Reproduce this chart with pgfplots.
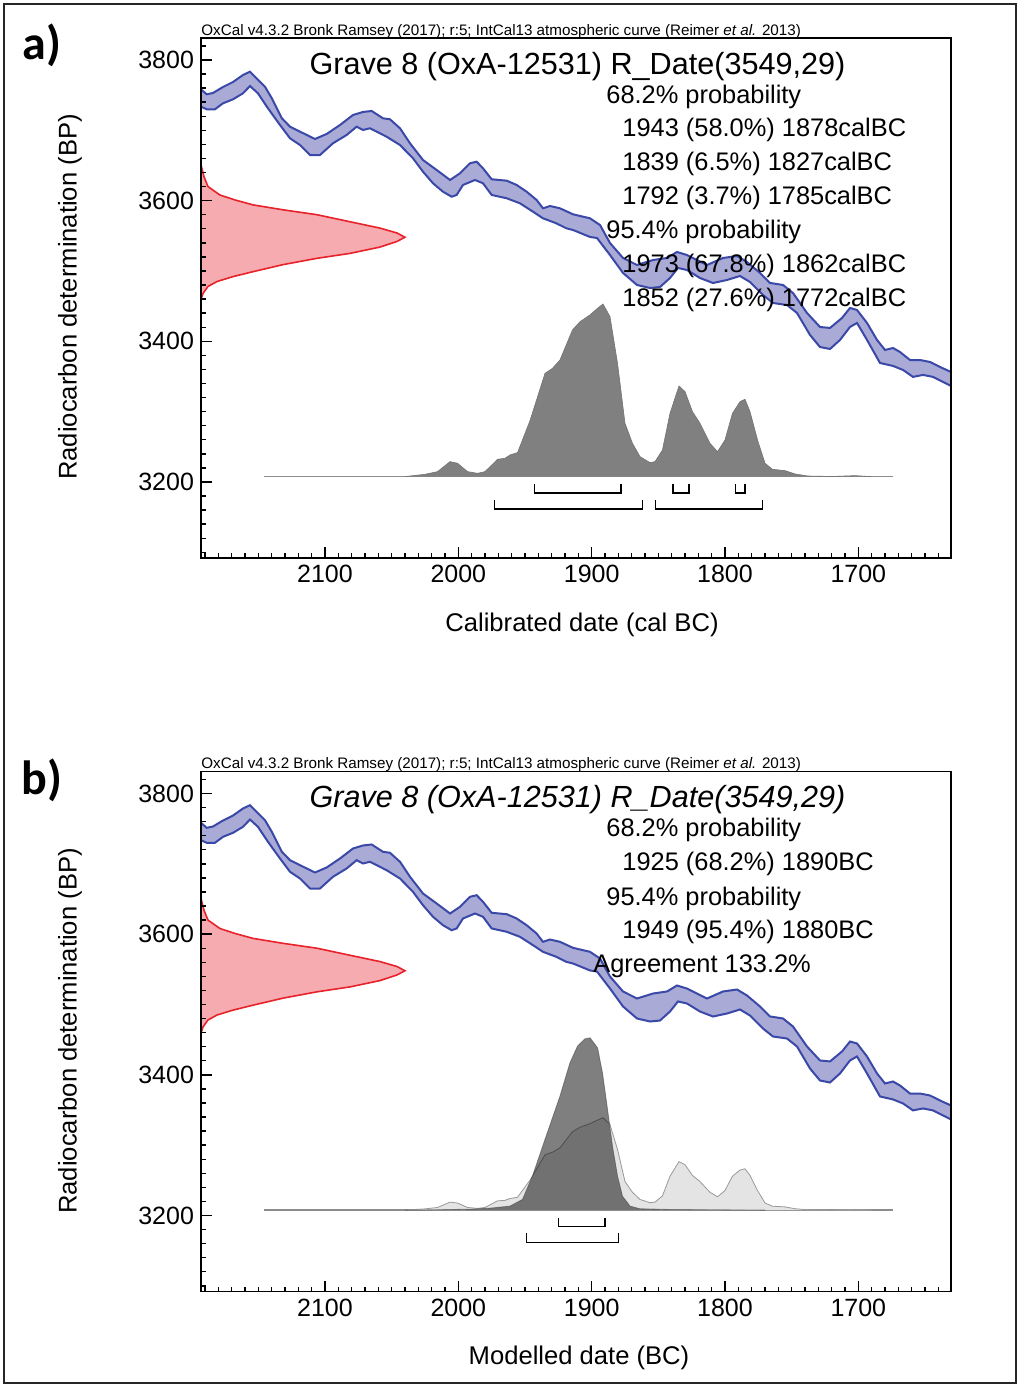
\documentclass[border=0pt]{standalone}
\usepackage{fontspec}
\setmainfont{Liberation Sans}
\newfontfamily\calibri{Carlito}
\usepackage{pgfplots}
\pgfplotsset{compat=1.18}
\usepackage{pgfplotstable}

\definecolor{bandline}{RGB}{58,72,168}
\definecolor{bandfill}{RGB}{170,170,215}
\definecolor{redline}{RGB}{232,34,42}
\definecolor{redfill}{RGB}{245,171,176}
\definecolor{distgray}{RGB}{128,128,128}
\definecolor{lightdist}{RGB}{228,228,228}

% IntCal13 band: upper edge from left to right, then lower edge back (cal BC, BP)
\pgfplotstableread{
year bp
2193.0 3758.3
2188.7 3751.2
2184.0 3753.1
2176.5 3761.6
2169.0 3768.7
2161.5 3778.7
2156.25 3783.4
2152.5 3776.2
2145.0 3762.0
2140.0 3746.0
2132.5 3717.5
2126.25 3705.2
2118.75 3698.1
2107.5 3687.7
2098.75 3694.8
2088.75 3707.6
2079.0 3721.8
2071.5 3726.1
2065.0 3727.5
2056.5 3717.1
2051.25 3715.7
2043.75 3702.9
2036.25 3681.6
2026.5 3657.8
2016.25 3643.6
2006.25 3629.4
1998.75 3638.9
1991.25 3653.1
1986.25 3655.4
1981.5 3646.0
1975.0 3630.4
1963.75 3628.4
1956.25 3622.3
1948.75 3612.7
1941.25 3600.9
1936.5 3589.1
1931.25 3592.4
1923.75 3589.1
1914.0 3580.6
1901.25 3574.9
1893.75 3565.4
1886.25 3539.8
1876.5 3518.5
1866.0 3508.5
1854.0 3515.6
1843.5 3518.5
1836.0 3527.0
1828.5 3522.7
1813.5 3508.5
1801.5 3518.5
1791.0 3521.3
1783.5 3512.8
1773.75 3497.2
1766.25 3483.0
1756.5 3480.1
1749.0 3468.7
1738.5 3440.3
1728.75 3420.4
1721.25 3419.0
1712.25 3433.2
1706.25 3447.4
1701.0 3444.6
1693.5 3426.1
1686.0 3402.0
1680.0 3387.7
1674.0 3390.5
1668.75 3384.8
1661.25 3373.4
1653.75 3373.4
1646.25 3370.6
1638.75 3363.5
1630.5 3356.4
1630.5 3336.5
1636.5 3342.2
1644.0 3349.4
1651.5 3352.2
1659.0 3349.4
1666.5 3359.3
1674.0 3365.0
1683.75 3369.2
1693.5 3402.0
1701.0 3426.1
1706.25 3420.4
1713.75 3401.9
1721.25 3389.1
1728.75 3391.9
1736.25 3409.0
1746.0 3440.3
1753.5 3451.6
1764.0 3454.5
1771.5 3465.8
1781.25 3484.3
1788.75 3492.9
1798.5 3487.2
1809.0 3482.9
1818.75 3490.0
1828.5 3501.4
1835.25 3504.3
1841.25 3490.0
1848.75 3477.2
1856.25 3475.8
1866.0 3480.1
1876.5 3497.2
1886.25 3522.7
1896.0 3546.9
1901.25 3548.4
1914.0 3558.3
1919.0 3560.7
1926.5 3567.8
1936.5 3574.9
1944.0 3584.3
1953.75 3596.2
1963.75 3603.4
1975.0 3608.1
1981.5 3624.7
1987.5 3629.4
1996.5 3622.3
2001.25 3608.1
2005.0 3605.6
2011.5 3612.7
2019.0 3624.7
2026.5 3641.2
2034.0 3660.2
2043.75 3679.1
2053.75 3690.9
2066.25 3702.9
2071.5 3700.5
2076.25 3705.2
2083.75 3693.4
2094.0 3681.6
2103.75 3664.9
2111.25 3664.9
2118.75 3679.1
2126.25 3688.7
2133.75 3707.6
2142.75 3731.3
2150.25 3752.6
2156.25 3763.0
2161.5 3752.6
2169.0 3744.1
2176.5 3738.4
2182.5 3729.9
2188.7 3729.9
2193.0 3733.6
}\bandtab

% R_Date(3549,29) on the BP axis
\pgfplotstableread{
year bp
2193.0 3651
2190.75 3634
2187.75 3620
2178.75 3608
2167.5 3601
2154.0 3594
2131.5 3587
2106.0 3580
2081.25 3570
2058.75 3561
2046.0 3554
2040.0 3548
2046.0 3542
2058.75 3534
2081.25 3525
2106.0 3518
2131.5 3509
2154.0 3499
2169.0 3492
2181.0 3485
2187.75 3478
2191.5 3468
2193.0 3459
}\rdatetab

% calibrated distribution (panel a)
\pgfplotstableread{
year bp
2040.0 3207.6
2036.25 3208.5
2025.0 3210.9
2015.6 3214.7
2006.25 3228.9
2000.6 3226.6
1993.1 3214.7
1985.6 3212.3
1980.0 3214.7
1970.6 3232.2
1965.0 3233.7
1961.25 3238.4
1955.6 3241.7
1946.25 3287.2
1935.0 3354.5
1929.4 3361.6
1923.75 3373.5
1914.4 3416.1
1908.75 3428.0
1901.25 3437.5
1895.6 3446.9
1891.5 3453.1
1886.25 3435.1
1880.6 3368.7
1875.0 3283.4
1869.4 3255.0
1863.75 3236.0
1856.25 3227.5
1852.5 3228.9
1846.9 3245.5
1841.25 3297.6
1834.5 3336.5
1830.0 3328.5
1824.4 3300.0
1818.75 3283.4
1811.25 3255.0
1805.6 3243.1
1800.0 3259.7
1794.4 3297.6
1788.75 3314.2
1785.0 3317.6
1781.25 3300.0
1775.6 3259.7
1770.0 3226.6
1764.4 3218.0
1755.0 3216.1
1747.5 3211.4
1738.0 3208.5
1720.0 3207.8
1702.5 3209.0
1690.0 3207.6
}\calibtab

% likelihood in panel b
\pgfplotstableread{
year bp
2040.0 3207.6
2036.25 3208.1
2025.0 3209.4
2015.6 3211.4
2006.25 3219.0
2000.6 3217.7
1993.1 3211.4
1985.6 3210.1
1980.0 3211.4
1970.6 3220.8
1965.0 3221.5
1961.25 3224.1
1955.6 3225.9
1946.25 3250.2
1935.0 3286.2
1929.4 3290.0
1923.75 3296.3
1914.4 3319.2
1908.75 3325.5
1901.25 3330.6
1895.6 3335.6
1891.5 3338.9
1886.25 3329.3
1880.6 3293.8
1875.0 3248.2
1869.4 3233.0
1863.75 3222.8
1856.25 3218.2
1852.5 3219.0
1846.9 3227.9
1841.25 3255.8
1834.5 3276.6
1830.0 3272.3
1824.4 3257.0
1818.75 3248.2
1811.25 3233.0
1805.6 3226.6
1800.0 3235.5
1794.4 3255.8
1788.75 3264.6
1785.0 3266.4
1781.25 3257.0
1775.6 3235.5
1770.0 3217.7
1764.4 3213.2
1755.0 3212.2
1747.5 3209.6
1738.0 3208.1
1720.0 3207.7
1702.5 3208.4
1690.0 3207.6
}\likeltab

% modelled (posterior) distribution, panel b
\pgfplotstableread{
year bp
2040.0 3207.6
2020.0 3208.0
1990.0 3209.0
1976.25 3210.4
1961.25 3213.3
1951.9 3222.8
1944.4 3255.9
1935.0 3308.1
1923.75 3369.7
1916.25 3417.1
1910.6 3440.8
1905.0 3451.2
1901.25 3452.6
1895.6 3438.4
1891.9 3402.9
1888.1 3350.7
1884.4 3298.6
1880.6 3255.9
1876.9 3227.5
1871.25 3213.3
1863.75 3209.5
1841.25 3208.5
1770.0 3207.6
}\posttab

\pgfplotsset{
  oxcal/.style={
    scale only axis, width=375pt, height=260pt,
    x dir=reverse, xmin=1630.5, xmax=2193, ymin=3091.9, ymax=3831.3,
    xtick={1700,1800,1900,2000,2100}, ytick={3200,3400,3600,3800},
    minor xtick={1640,1650,...,2190},
    minor ytick={3100,3120,...,3820},
    xtick pos=left, ytick pos=left,
    tick align=inside,
    major tick length=5.5pt, minor tick length=2.5pt,
    axis line style={line width=0.8pt},
    tick style={black, line width=0.7pt},
    tick label style={font=\fontsize{12.5}{14}\selectfont},
    /pgf/number format/assume math mode=true,
    /pgf/number format/1000 sep={},
    axis on top,
  },
  bracket/.style={black, line width=0.6pt},
}

\newcommand{\calcurve}{%
  \addplot[fill=bandfill, draw=bandline, line width=1pt] table[x=year,y=bp] {\bandtab};
  \addplot[draw=redline, fill=redfill, line width=0.8pt] table[x=year,y=bp] {\rdatetab};
  \addplot[draw=gray!90, line width=0.7pt] coordinates {(2146,3207.6) (1674,3207.6)};
}

\begin{document}
\begin{tikzpicture}
\useasboundingbox (0,0) rectangle (509pt,693.5pt);
\draw[line width=0.75pt, black!85] (2pt,2pt) rectangle (508pt,691.5pt);

% ---------- panel a ----------
\begin{axis}[oxcal, at={(100.5pt,674.5pt)}, anchor=north west]
  \calcurve
  \addplot[fill=distgray, draw=black!55, line width=0.3pt] table[x=year,y=bp] {\calibtab};
  \addplot[bracket] coordinates {(1943,3197) (1943,3184.3) (1878,3184.3) (1878,3197)};
  \addplot[bracket] coordinates {(1839,3197) (1839,3184.3) (1827,3184.3) (1827,3197)};
  \addplot[bracket] coordinates {(1792,3197) (1792,3184.3) (1785,3184.3) (1785,3197)};
  \addplot[bracket] coordinates {(1973,3174.4) (1973,3161.6) (1862,3161.6) (1862,3174.4)};
  \addplot[bracket] coordinates {(1852,3174.4) (1852,3161.6) (1772,3161.6) (1772,3174.4)};
\end{axis}

% ---------- panel b ----------
\begin{axis}[oxcal, at={(100.5pt,307.75pt)}, anchor=north west]
  \calcurve
  \addplot[fill=lightdist, draw=black!40, line width=0.4pt] table[x=year,y=bp] {\likeltab};
  \addplot[fill=black, fill opacity=0.5, draw=black!70, draw opacity=0.6, line width=0.4pt] table[x=year,y=bp] {\posttab};
  \addplot[bracket] coordinates {(1925,3197) (1925,3184.3) (1890,3184.3) (1890,3197)};
  \addplot[bracket] coordinates {(1949,3174.4) (1949,3161.6) (1880,3161.6) (1880,3174.4)};
\end{axis}

% ---------- texts ----------
\node[font=\calibri\bfseries\fontsize{24}{26}\selectfont] at (21pt,671pt) {a)};
\node[font=\calibri\bfseries\fontsize{24}{26}\selectfont] at (21pt,303.5pt) {b)};

\node[anchor=base west, inner sep=0, font=\fontsize{7.6}{9}\selectfont] at (100.5pt,675.75pt)
  {OxCal v4.3.2 Bronk Ramsey (2017); r:5; IntCal13 atmospheric curve (Reimer \textit{et al.} 2013)};
\node[anchor=base west, inner sep=0, font=\fontsize{7.6}{9}\selectfont] at (100.5pt,309.25pt)
  {OxCal v4.3.2 Bronk Ramsey (2017); r:5; IntCal13 atmospheric curve (Reimer \textit{et al.} 2013)};

\node[anchor=base, inner sep=0, font=\fontsize{15.3}{17}\selectfont] at (288.75pt,656pt)
  {Grave 8 (OxA-12531) R\_Date(3549,29)};
\node[anchor=base, inner sep=0, font=\itshape\fontsize{15.3}{17}\selectfont] at (288.75pt,289.75pt)
  {Grave 8 (OxA-12531) R\_Date(3549,29)};

\begin{scope}[every node/.style={anchor=base west, inner sep=0, font=\fontsize{12.7}{14}\selectfont}]
  \node at (303pt,641.5pt) {68.2\% probability};
  \node at (311pt,625pt) {1943 (58.0\%) 1878calBC};
  \node at (311pt,608pt) {1839 (6.5\%) 1827calBC};
  \node at (311pt,591pt) {1792 (3.7\%) 1785calBC};
  \node at (303pt,574pt) {95.4\% probability};
  \node at (311pt,557pt) {1973 (67.8\%) 1862calBC};
  \node at (311pt,540pt) {1852 (27.6\%) 1772calBC};

  \node at (303pt,275pt) {68.2\% probability};
  \node at (311pt,258pt) {1925 (68.2\%) 1890BC};
  \node at (303pt,240.5pt) {95.4\% probability};
  \node at (311pt,224pt) {1949 (95.4\%) 1880BC};
  \node at (296.5pt,207pt) {Agreement 133.2\%};
\end{scope}

\begin{scope}[every node/.style={inner sep=0, font=\fontsize{12.8}{14}\selectfont}]
  \node[rotate=90] at (35pt,545pt) {Radiocarbon determination (BP)};
  \node[rotate=90] at (35pt,178pt) {Radiocarbon determination (BP)};
  \node at (291pt,381pt) {Calibrated date (cal BC)};
  \node at (289.5pt,14.5pt) {Modelled date (BC)};
\end{scope}
\end{tikzpicture}
\end{document}
